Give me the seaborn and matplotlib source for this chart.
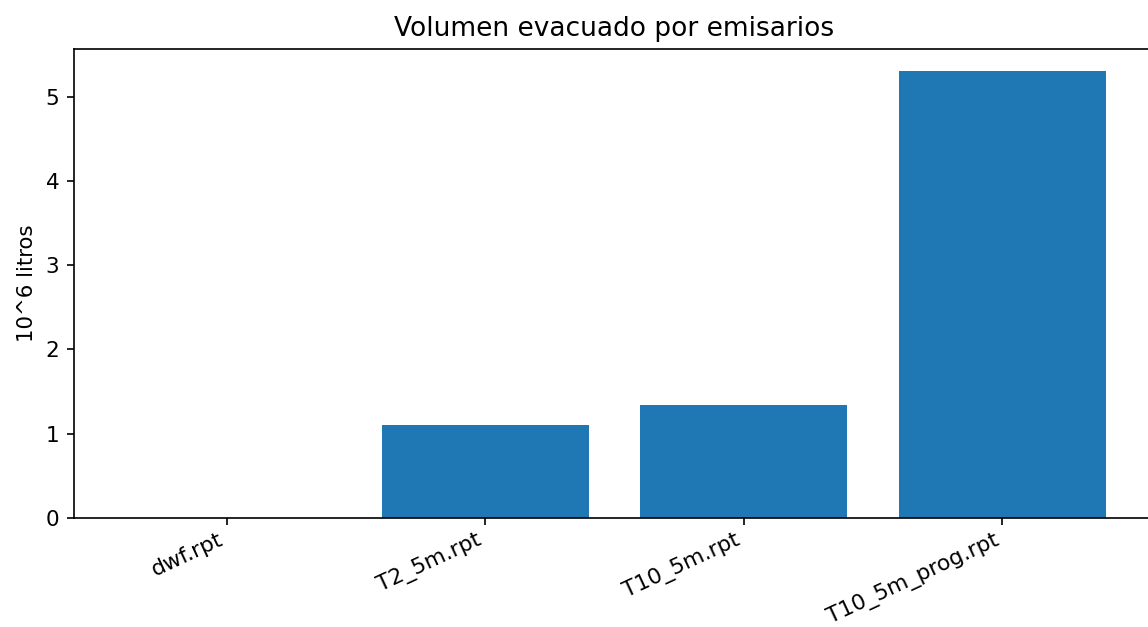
import matplotlib
matplotlib.use("Agg")

import matplotlib.pyplot as plt
import pandas as pd
import seaborn as sns

DPI = 150
FIG_SIZE = (1148 / DPI, 627 / DPI)

CASES = ["dwf.rpt", "T2_5m.rpt", "T10_5m.rpt", "T10_5m_prog.rpt"]
VOLUMES = [0.0, 1.1, 1.34, 5.3]


def main() -> None:
    df = pd.DataFrame({"caso": CASES, "volumen": VOLUMES})

    fig = plt.figure(figsize=FIG_SIZE, dpi=DPI)
    # axes run slightly past the right edge, as in the original crop
    ax = fig.add_axes([0.0645, 0.1738, 0.9415, 0.7481])
    sns.barplot(data=df, x="caso", y="volumen", color="#1f77b4",
                saturation=1, width=0.8, ax=ax)
    ax.set_xlim(-0.59, 3.59)
    ax.set_ylim(0, 5.565)
    ax.set_title("Volumen evacuado por emisarios", fontsize=12.7)
    ax.set_xlabel("")
    ax.set_ylabel("10^6 litros", fontsize=10.2)
    ax.tick_params(axis="x", labelsize=10.5, pad=2.2)
    ax.tick_params(axis="y", labelsize=10.4)
    plt.setp(ax.get_xticklabels(), rotation=25, ha="right")
    fig.savefig("out.png", dpi=DPI)
    plt.close("all")


if __name__ == "__main__":
    main()
